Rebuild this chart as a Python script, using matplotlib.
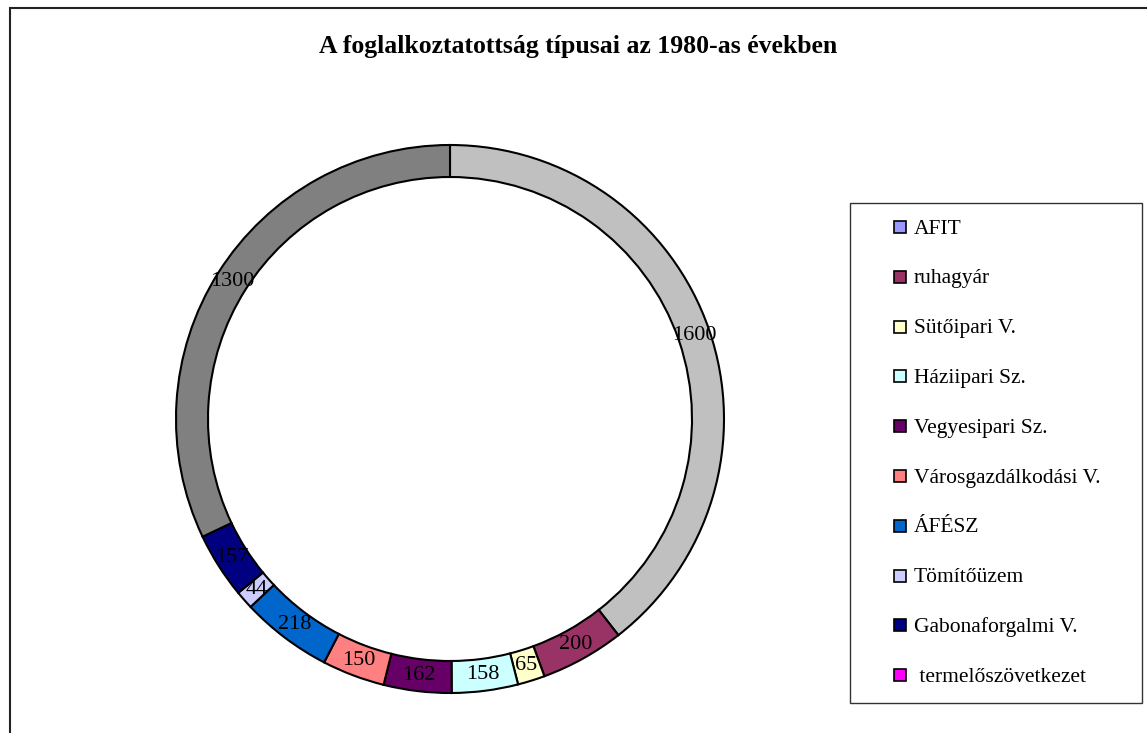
import matplotlib
matplotlib.use('Agg')
import matplotlib.pyplot as plt
from matplotlib.patches import Rectangle

# slice values, clockwise from 12 o'clock
values = [1600, 200, 65, 158, 162, 150, 218, 44, 157, 1300]
slice_colors = ["#C0C0C0", "#993366", "#FFFFCC", "#CCFFFF", "#660066",
                "#FF8080", "#0066CC", "#CCCCFF", "#000080", "#808080"]

# legend as it appears in the original sheet
legend_labels = ["AFIT", "ruhagyár", "Sütőipari V.", "Háziipari Sz.", "Vegyesipari Sz.",
                 "Városgazdálkodási V.", "ÁFÉSZ", "Tömítőüzem", "Gabonaforgalmi V.",
                 " termelőszövetkezet"]
legend_colors = ["#9999FF", "#993366", "#FFFFCC", "#CCFFFF", "#660066",
                 "#FF8080", "#0066CC", "#CCCCFF", "#000080", "#FF00FF"]

title = "A foglalkoztatottság típusai az 1980-as években"

plt.rcParams['font.family'] = ['Liberation Serif', 'DejaVu Serif']

W, H = 1147, 733
fig = plt.figure(figsize=(W / 100, H / 100), dpi=100, facecolor="white")
ax = fig.add_axes([0, 0, 1, 1])

total = sum(values)
R = 274
wedges, texts, autotexts = ax.pie(
    values,
    colors=slice_colors,
    startangle=90,
    counterclock=False,
    center=(450, H - 419),
    radius=R,
    frame=True,
    wedgeprops=dict(width=32, edgecolor="black", linewidth=1.5),
    autopct=lambda p: f"{round(p * total / 100)}",
    pctdistance=258 / R,
    textprops=dict(fontsize=16, color="black"),
)
ax.set_xlim(0, W)
ax.set_ylim(0, H)
ax.set_aspect('equal')
ax.axis('off')

# chart area border (cut off right and bottom)
ax.add_patch(Rectangle((10, -10), 1150, H - 8 + 10, fill=False, edgecolor="#222222", linewidth=1.5))

fig.text(578 / W, 1 - 47 / H, title, ha='center', va='center', fontsize=18.5, fontweight='bold')

# legend box, drawn by hand in pixel units
ax.add_patch(Rectangle((850, H - 703), 292, 500, fill=False, edgecolor="#333333", linewidth=1.0))
for i, (lab, col) in enumerate(zip(legend_labels, legend_colors)):
    y = H - (227 + i * 49.8)
    ax.add_patch(Rectangle((894, y - 6), 12, 12, facecolor=col, edgecolor="black", linewidth=1.2))
    ax.text(914, y - 2, lab, ha='left', va='center', fontsize=15.5)

fig.savefig("out.png", dpi=100, facecolor="white")
